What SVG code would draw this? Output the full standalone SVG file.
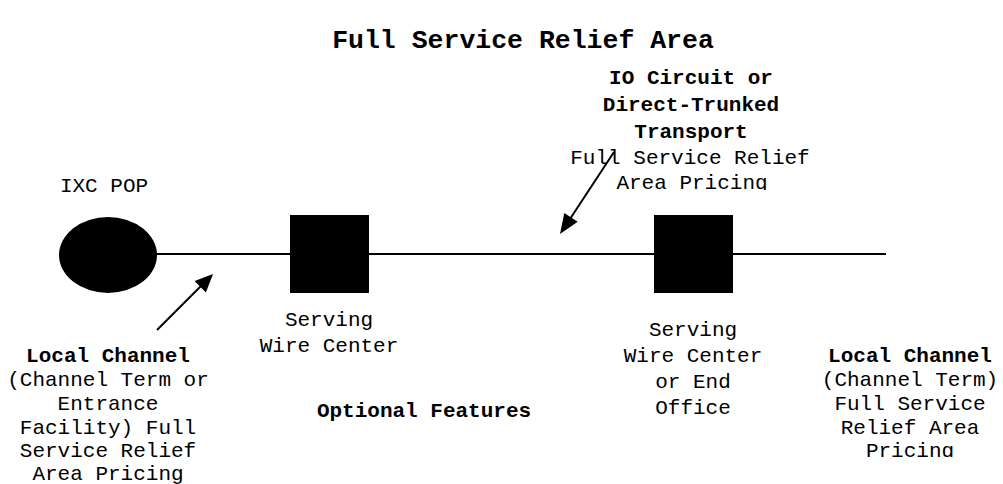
<svg xmlns="http://www.w3.org/2000/svg" width="1003" height="484" viewBox="0 0 1003 484">
<style>
text{font-family:"Liberation Mono","Courier New",monospace;font-size:21px;fill:#000;text-anchor:middle}
.b{font-weight:bold}
.t{font-size:26.5px;font-weight:bold}
.ln{stroke:#000;stroke-width:2;fill:none}
.hd{fill:#000}
</style>
<defs>
<clipPath id="clipTop"><rect x="500" y="60" width="400" height="130"/></clipPath>
<clipPath id="clipRight"><rect x="800" y="330" width="203" height="127"/></clipPath>
</defs>
<rect width="1003" height="484" fill="#fff"/>
<text class="t" x="523" y="48">Full Service Relief Area</text>
<g id="connectors">
<line class="ln" x1="156" y1="254" x2="886" y2="254"/>
<line class="ln" x1="157" y1="330" x2="203" y2="284"/>
<path class="hd" d="M213,274 L205.9,292.4 L194.6,281 z"/>
<line class="ln" x1="614" y1="152" x2="568" y2="222"/>
<path class="hd" d="M560,234 L577.7,221.7 L564.3,212.9 z"/>
</g>
<g id="ixc-pop">
<ellipse cx="108" cy="255" rx="49" ry="38" fill="#000"/>
<text x="104" y="192">IXC POP</text>
</g>
<g id="serving-wire-center">
<rect x="290" y="215" width="79" height="78" fill="#000"/>
<text x="329" y="326">Serving</text>
<text x="329" y="352">Wire Center</text>
</g>
<g id="serving-wire-center-end-office">
<rect x="654" y="215" width="79" height="78" fill="#000"/>
<text x="693" y="336">Serving</text>
<text x="693" y="362">Wire Center</text>
<text x="693" y="388">or End</text>
<text x="693" y="414">Office</text>
</g>
<g id="io-circuit-label" clip-path="url(#clipTop)">
<text class="b" x="691" y="84">IO Circuit or</text>
<text class="b" x="691" y="111">Direct-Trunked</text>
<text class="b" x="691" y="138">Transport</text>
<text x="690" y="164">Full Service Relief</text>
<text x="692" y="189">Area Pricing</text>
</g>
<g id="local-channel-left">
<text class="b" x="108" y="362">Local Channel</text>
<text x="108" y="386">(Channel Term or</text>
<text x="108" y="410">Entrance</text>
<text x="108" y="434">Facility) Full</text>
<text x="108" y="457">Service Relief</text>
<text x="108" y="480">Area Pricing</text>
</g>
<g id="local-channel-right" clip-path="url(#clipRight)">
<text class="b" x="910" y="362">Local Channel</text>
<text x="910" y="386">(Channel Term)</text>
<text x="910" y="410">Full Service</text>
<text x="910" y="434">Relief Area</text>
<text x="910" y="457">Pricing</text>
</g>
<g id="optional-features">
<text class="b" x="424" y="417">Optional Features</text>
</g>
</svg>
